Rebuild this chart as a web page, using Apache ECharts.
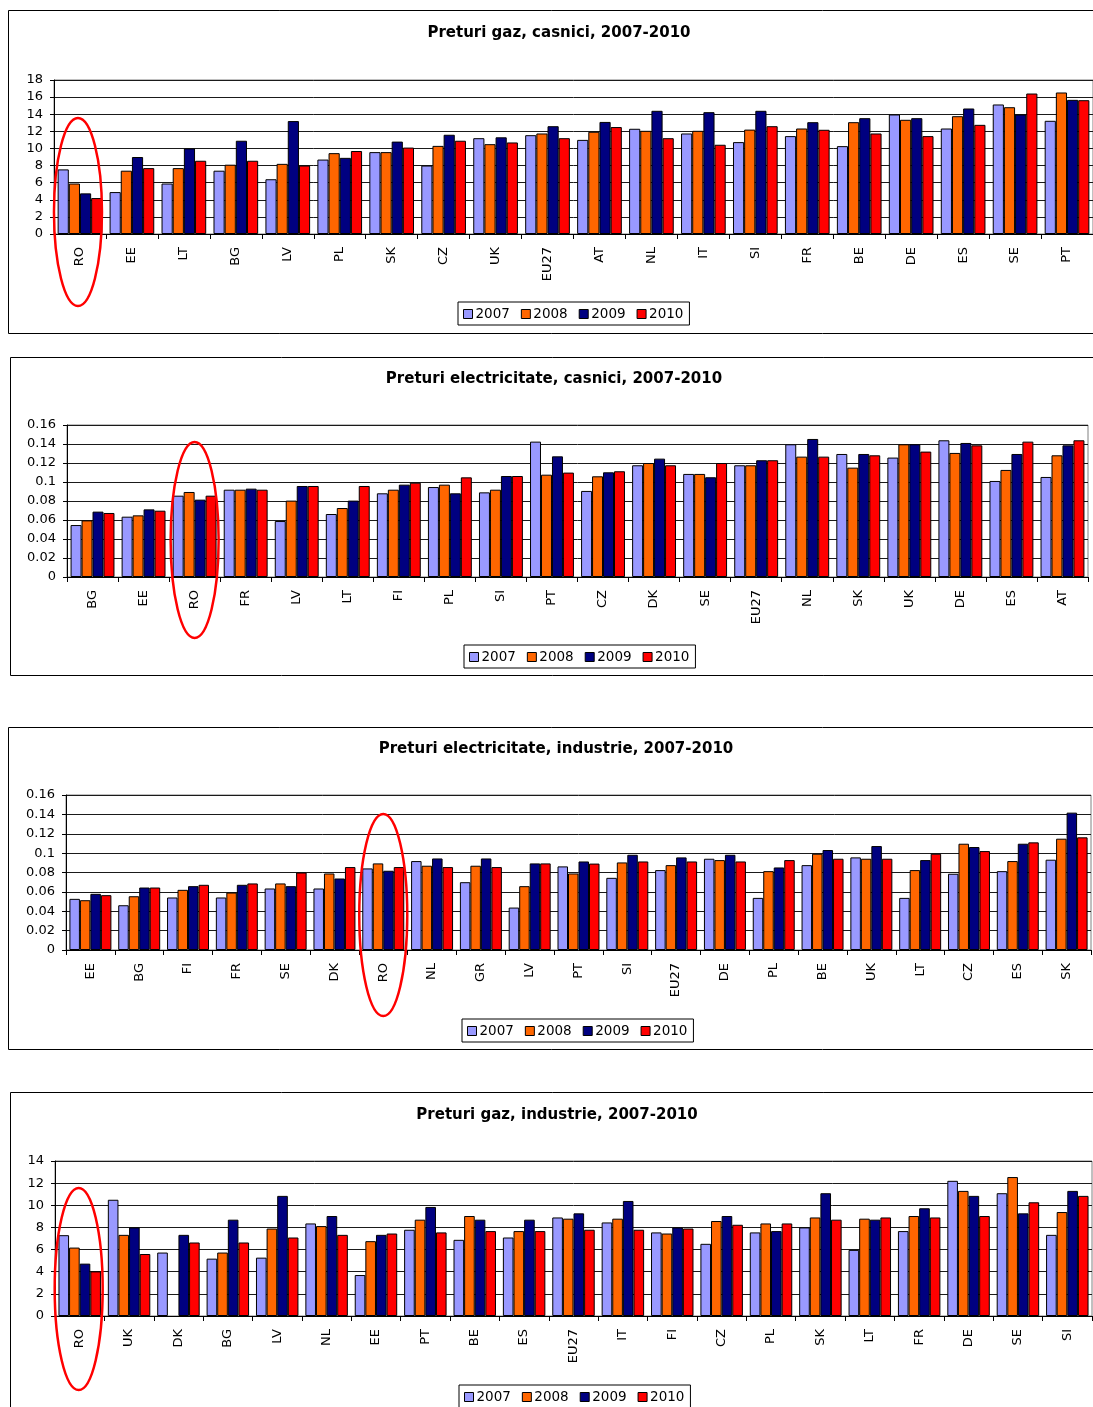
<!DOCTYPE html>
<html>
<head>
<meta charset="utf-8">
<script src="https://cdn.jsdelivr.net/npm/echarts@6/dist/echarts.min.js"></script>
<style>
  html, body { margin: 0; padding: 0; background: #fff; }
  #chart { width: 1093px; height: 1407px; }
</style>
</head>
<body>
<div id="chart"></div>
<script>
// ani
const years = ['2007', '2008', '2009', '2010'];
const culori = ['#9999FF', '#FF6600', '#000080', '#FF0000'];

// Preturi gaz, casnici
const gazCasniciTari = ['RO', 'EE', 'LT', 'BG', 'LV', 'PL', 'SK', 'CZ', 'UK', 'EU27', 'AT', 'NL', 'IT', 'SI', 'FR', 'BE', 'DE', 'ES', 'SE', 'PT'];
const gazCasnici2007 = [7.55, 4.9, 5.9, 7.4, 6.4, 8.7, 9.57, 8.0, 11.2, 11.55, 11.0, 12.3, 11.75, 10.74, 11.44, 10.27, 13.97, 12.33, 15.14, 13.23];
const gazCasnici2008 = [5.9, 7.4, 7.7, 8.1, 8.2, 9.45, 9.57, 10.3, 10.5, 11.75, 11.95, 12.06, 12.06, 12.2, 12.33, 13.07, 13.35, 13.77, 14.82, 16.54];
const gazCasnici2009 = [4.75, 9.0, 10.0, 10.9, 13.2, 8.9, 10.8, 11.6, 11.3, 12.6, 13.1, 14.4, 14.24, 14.4, 13.07, 13.54, 13.54, 14.67, 13.97, 15.68];
const gazCasnici2010 = [4.2, 7.7, 8.56, 8.56, 8.0, 9.7, 10.1, 10.9, 10.7, 11.2, 12.5, 11.2, 10.43, 12.6, 12.18, 11.75, 11.44, 12.76, 16.42, 15.64];

// Preturi electricitate, casnici
const elCasniciTari = ['BG', 'EE', 'RO', 'FR', 'LV', 'LT', 'FI', 'PL', 'SI', 'PT', 'CZ', 'DK', 'SE', 'EU27', 'NL', 'SK', 'UK', 'DE', 'ES', 'AT'];
const elCasnici2007 = [0.0547, 0.0635, 0.0856, 0.0919, 0.0589, 0.0663, 0.0881, 0.0947, 0.0891, 0.1425, 0.0906, 0.1176, 0.1085, 0.1176, 0.1397, 0.1295, 0.1257, 0.1439, 0.1011, 0.1053];
const elCasnici2008 = [0.0596, 0.0649, 0.0895, 0.0919, 0.0804, 0.0726, 0.0919, 0.0972, 0.0919, 0.1077, 0.106, 0.12, 0.1085, 0.1176, 0.1267, 0.1151, 0.1397, 0.1306, 0.1127, 0.1281];
const elCasnici2009 = [0.0688, 0.0712, 0.0814, 0.093, 0.0958, 0.0804, 0.0972, 0.0881, 0.1063, 0.127, 0.1102, 0.1246, 0.105, 0.1229, 0.1453, 0.1295, 0.1397, 0.1411, 0.1295, 0.1386];
const elCasnici2010 = [0.0674, 0.0698, 0.0856, 0.0919, 0.0958, 0.0958, 0.0993, 0.1049, 0.1063, 0.1099, 0.1113, 0.1176, 0.12, 0.1229, 0.1267, 0.1281, 0.132, 0.1386, 0.1425, 0.1439];

// Preturi electricitate, industrie
const elIndTari = ['EE', 'BG', 'FI', 'FR', 'SE', 'DK', 'RO', 'NL', 'GR', 'LV', 'PT', 'SI', 'EU27', 'DE', 'PL', 'BE', 'UK', 'LT', 'CZ', 'ES', 'SK'];
const elInd2007 = [0.0528, 0.0462, 0.0542, 0.0542, 0.0635, 0.0635, 0.0842, 0.0918, 0.07, 0.0438, 0.0863, 0.0745, 0.0825, 0.0942, 0.0538, 0.0876, 0.0956, 0.0538, 0.0787, 0.0814, 0.0932];
const elInd2008 = [0.0514, 0.0555, 0.0621, 0.0593, 0.0687, 0.079, 0.0894, 0.087, 0.087, 0.0659, 0.079, 0.0904, 0.0876, 0.0928, 0.0814, 0.0994, 0.0942, 0.0825, 0.1097, 0.0918, 0.1149];
const elInd2009 = [0.058, 0.0645, 0.0659, 0.0673, 0.0659, 0.0738, 0.0818, 0.0945, 0.0945, 0.0894, 0.0914, 0.0983, 0.0956, 0.0983, 0.0852, 0.1032, 0.1073, 0.0928, 0.1063, 0.1097, 0.1418];
const elInd2010 = [0.0566, 0.0645, 0.0673, 0.0687, 0.08, 0.0856, 0.0856, 0.0856, 0.0856, 0.0894, 0.0892, 0.0914, 0.0914, 0.0914, 0.0928, 0.0942, 0.0942, 0.0994, 0.1021, 0.1111, 0.1163];

// Preturi gaz, industrie (DK fara valoare in 2008)
const gazIndTari = ['RO', 'UK', 'DK', 'BG', 'LV', 'NL', 'EE', 'PT', 'BE', 'ES', 'EU27', 'IT', 'FI', 'CZ', 'PL', 'SK', 'LT', 'FR', 'DE', 'SE', 'SI'];
const gazInd2007 = [7.3, 10.5, 5.73, 5.18, 5.27, 8.36, 3.7, 7.79, 6.88, 7.09, 8.9, 8.45, 7.55, 6.52, 7.55, 8.0, 5.97, 7.67, 12.21, 11.09, 7.33];
const gazInd2008 = [6.18, 7.33, null, 5.73, 7.9, 8.12, 6.76, 8.7, 9.03, 7.67, 8.79, 8.79, 7.45, 8.58, 8.36, 8.9, 8.79, 9.03, 11.3, 12.55, 9.39];
const gazInd2009 = [4.73, 8.0, 7.33, 8.7, 10.85, 9.03, 7.33, 9.85, 8.7, 8.7, 9.27, 10.39, 8.0, 9.03, 7.67, 11.09, 8.7, 9.73, 10.85, 9.27, 11.3];
const gazInd2010 = [4.03, 5.6, 6.64, 6.64, 7.09, 7.33, 7.45, 7.55, 7.67, 7.67, 7.79, 7.79, 7.9, 8.24, 8.36, 8.7, 8.9, 8.9, 9.03, 10.27, 10.85];

const font = 'DejaVu Sans, Verdana, sans-serif';

// asezarea fiecarui grafic in pagina
const panouri = [
  { titlu: 'Preturi gaz, casnici, 2007-2010', tari: gazCasniciTari,
    serii: [gazCasnici2007, gazCasnici2008, gazCasnici2009, gazCasnici2010],
    max: 18, interval: 2,
    box: [8, 10, 323], titluX: 559, titluY: 26,
    grid: { left: 54, top: 80, width: 1042, height: 154 },
    legenda: { left: 458, top: 302 } },
  { titlu: 'Preturi electricitate, casnici, 2007-2010', tari: elCasniciTari,
    serii: [elCasnici2007, elCasnici2008, elCasnici2009, elCasnici2010],
    max: 0.16, interval: 0.02,
    box: [10, 357, 318], titluX: 554, titluY: 372,
    grid: { left: 67, top: 425, width: 1021, height: 152 },
    legenda: { left: 464, top: 645 } },
  { titlu: 'Preturi electricitate, industrie, 2007-2010', tari: elIndTari,
    serii: [elInd2007, elInd2008, elInd2009, elInd2010],
    max: 0.16, interval: 0.02,
    box: [8, 727, 322], titluX: 556, titluY: 742,
    grid: { left: 66, top: 795, width: 1025, height: 155 },
    legenda: { left: 462, top: 1019 } },
  { titlu: 'Preturi gaz, industrie, 2007-2010', tari: gazIndTari,
    serii: [gazInd2007, gazInd2008, gazInd2009, gazInd2010],
    max: 14, interval: 2,
    box: [10, 1092, 400], titluX: 557, titluY: 1108,
    grid: { left: 55, top: 1161, width: 1037, height: 155 },
    legenda: { left: 459, top: 1385 } }
];

const titles = [], grids = [], xAxes = [], yAxes = [], series = [], legends = [], graphics = [];

panouri.forEach(function (p, i) {
  titles.push({
    text: p.titlu, left: p.titluX, top: p.titluY, textAlign: 'center', padding: 0,
    textStyle: { fontFamily: font, fontSize: 15, fontWeight: 'bold', color: '#000' }
  });
  grids.push(Object.assign({ show: true, borderColor: '#808080', borderWidth: 1, backgroundColor: 'transparent' }, p.grid));
  xAxes.push({
    type: 'category', gridIndex: i, data: p.tari,
    axisLine: { lineStyle: { color: '#000', width: 1 } },
    axisTick: { show: true, length: 5, lineStyle: { color: '#000' } },
    axisLabel: { rotate: 90, margin: 13, fontFamily: font, fontSize: 13, color: '#000', interval: 0 },
    splitLine: { show: false }
  });
  yAxes.push({
    type: 'value', gridIndex: i, min: 0, max: p.max, interval: p.interval,
    axisLine: { show: true, lineStyle: { color: '#000', width: 1 } },
    axisTick: { show: true, length: 4, lineStyle: { color: '#000' } },
    axisLabel: { margin: 11, fontFamily: font, fontSize: 13, color: '#000' },
    splitLine: { show: true, lineStyle: { color: '#1a1a1a', width: 1 } }
  });
  p.serii.forEach(function (valori, k) {
    series.push({
      type: 'bar', name: years[k], xAxisIndex: i, yAxisIndex: i, data: valori,
      barGap: '0%', barCategoryGap: '14%',
      itemStyle: { color: culori[k], borderColor: '#000', borderWidth: 1 },
      emphasis: { disabled: true }
    });
  });
  legends.push({
    data: years, left: p.legenda.left, top: p.legenda.top, orient: 'horizontal',
    icon: 'rect', itemWidth: 9, itemHeight: 9, itemGap: 11,
    padding: [5, 6, 4, 5], borderColor: '#000', borderWidth: 1,
    itemStyle: { borderColor: '#000', borderWidth: 1 },
    textStyle: { fontFamily: font, fontSize: 13.5, color: '#000', padding: [0, 0, 0, -2] },
    selectedMode: false
  });
  graphics.push({
    type: 'rect', silent: true,
    shape: { x: p.box[0] + 0.5, y: p.box[1] + 0.5, width: 1200, height: p.box[2] },
    style: { fill: 'none', stroke: '#000', lineWidth: 1 }
  });
});

const chart = echarts.init(document.getElementById('chart'), null, { renderer: 'canvas' });
chart.setOption({
  animation: false,
  backgroundColor: '#fff',
  title: titles,
  grid: grids,
  xAxis: xAxes,
  yAxis: yAxes,
  legend: legends,
  series: series,
  graphic: graphics
});

// elipsele rosii in jurul Romaniei, plasate pe categoria RO din fiecare axa
const elipse = [
  { dx: -2, cy: 212, ry: 94 },
  { dx: 0, cy: 540, ry: 98 },
  { dx: 0, cy: 915, ry: 101 },
  { dx: -1, cy: 1289, ry: 101 }
];
panouri.forEach(function (p, i) {
  const x = chart.convertToPixel({ xAxisIndex: i }, 'RO');
  graphics.push({
    type: 'ellipse', silent: true, z: 100,
    shape: { cx: x + elipse[i].dx, cy: elipse[i].cy, rx: 24, ry: elipse[i].ry },
    style: { fill: 'none', stroke: '#FF0000', lineWidth: 2.5 }
  });
});
chart.setOption({ graphic: graphics });
</script>
</body>
</html>
